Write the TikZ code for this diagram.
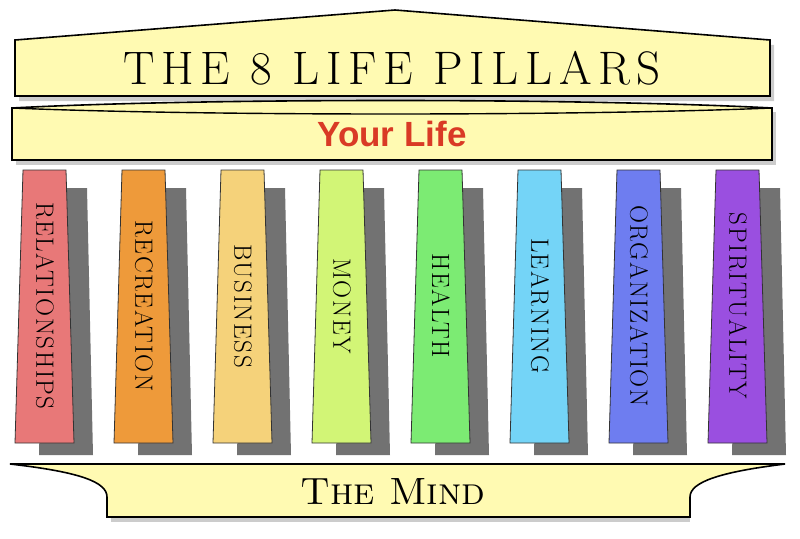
\documentclass[tikz,border=0pt]{standalone}
\usepackage{fontspec}
\newfontfamily\sansb{Liberation Sans}
\newfontfamily\spaced{Latin Modern Roman}[LetterSpace=14]
\newfontfamily\spacedp{Latin Modern Roman}[LetterSpace=6]
\begin{document}
\begin{tikzpicture}[x=1pt,y=-1pt,
  part/.style={draw=black,line width=1.6pt,fill={rgb,255:red,255;green,250;blue,178}},
  pillar/.style={draw=black!80,line width=0.8pt},
  shad/.style={fill=black!65,opacity=0.85},
  ptext/.style={rotate=-90,font=\spacedp\fontsize{25}{25}\selectfont,text=black}]
\useasboundingbox (0,0) rectangle (800,538);
% pediment
\fill[black!40,opacity=0.5] (19,45) -- (398,15) -- (774,45) -- (774,101) -- (19,101) -- cycle;
\draw[part] (15,40) -- (395,10) -- (770,40) -- (770,96) -- (15,96) -- cycle;
\node (title) at (392,68) {\spaced\fontsize{47}{47}\selectfont THE 8 LIFE PILLARS};
% band
\fill[black!40,opacity=0.5] (16,112) -- (776,112) -- (776,165) -- (16,165) -- cycle;
\draw[part] (12,108) .. controls (200,98) and (580,98) .. (772,108) -- (772,160) -- (12,160) -- cycle;
\draw[line width=1.4pt] (12,108) .. controls (200,116) and (580,116) .. (772,108);
\node (life) at (392,134) {\sansb\bfseries\fontsize{35}{35}\selectfont\color[HTML]{D93A25}Your Life};
% pillars
\foreach \i/\c/\t in {0/E87878/RELATIONSHIPS,1/EE9A3A/RECREATION,2/F5D27A/BUSINESS,3/D2F576/MONEY,4/7CEB73/HEALTH,5/74D4F7/LEARNING,6/6E7DF0/ORGANIZATION,7/9A4FE0/SPIRITUALITY}{
  \pgfmathsetmacro\cx{45+99*\i}
  \fill[shad] (\cx,188) -- (\cx+42,188) -- (\cx+48,455) -- (\cx-6,455) -- cycle;
  \definecolor{pc}{HTML}{\c}
  \draw[pillar,fill=pc] (\cx-22,170) -- (\cx+21,170) -- (\cx+29,443) -- (\cx-30,443) -- cycle;
  \node[ptext] (p\i) at (\cx,306) {\t};
}
% base
\fill[black!40,opacity=0.5] (111,470) -- (690,470) -- (690,522) -- (111,522) -- cycle;
\draw[part] (10,464) -- (785,464) .. controls (720,472) and (690,482) .. (690,497) -- (690,517) -- (107,517) -- (107,497) .. controls (107,482) and (80,472) .. (10,464) -- cycle;
\node (mind) at (393,492) {\fontsize{38}{38}\selectfont\scshape The Mind};
\end{tikzpicture}
\end{document}
